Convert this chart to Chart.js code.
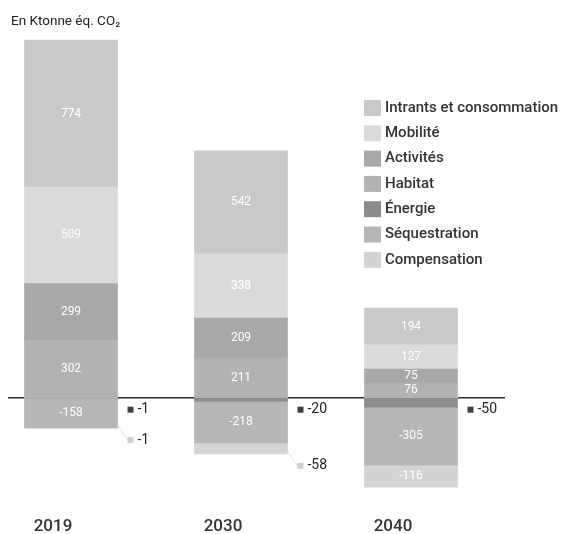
<!DOCTYPE html>
<html>
<head>
<meta charset="utf-8">
<script src="https://cdn.jsdelivr.net/npm/chart.js@4.4.0/dist/chart.umd.min.js"></script>
<style>
  html, body { margin: 0; padding: 0; background: #fff; }
  #wrap { width: 565px; height: 534px; }
</style>
</head>
<body>
<div id="wrap"><canvas id="chart"></canvas></div>
<script>
// values (Ktonne éq. CO2)
const years = ["2019", "2030", "2040"];
const intrants = [774, 542, 194];
const mobilite = [509, 338, 127];
const activites = [299, 209, 75];
const habitat = [302, 211, 76];
const energie = [-1, -20, -50];
const sequestration = [-158, -218, -305];
const compensation = [-1, -58, -116];
const unitLabel = "En Ktonne éq. CO₂";
const legendOrder = ["Intrants et consommation", "Mobilité", "Activités", "Habitat", "Énergie", "Séquestration", "Compensation"];

const FONT = "Roboto, 'DejaVu Sans', sans-serif";

// stacking order: first dataset sits next to the zero line
const datasets = [
  { label: "Habitat", data: habitat, backgroundColor: "#b2b2b2" },
  { label: "Activités", data: activites, backgroundColor: "#a8a8a8" },
  { label: "Mobilité", data: mobilite, backgroundColor: "#dadada" },
  { label: "Intrants et consommation", data: intrants, backgroundColor: "#c9c9c9" },
  { label: "Énergie", data: energie, backgroundColor: "#8c8c8c", labelPos: "zero", marker: "#3f3f3f" },
  { label: "Séquestration", data: sequestration, backgroundColor: "#b6b6b6" },
  { label: "Compensation", data: compensation, backgroundColor: "#d4d4d4", labelPos: "bottom", marker: "#cfcfcf" },
];

const decor = {
  id: "decor",
  beforeDatasetsDraw(chart) {
    // zero line behind the bars
    const { ctx } = chart;
    const y0 = chart.scales.y.getPixelForValue(0);
    ctx.save();
    ctx.strokeStyle = "#2e2e2e";
    ctx.lineWidth = 1.5;
    ctx.beginPath();
    ctx.moveTo(8, y0);
    ctx.lineTo(505, y0);
    ctx.stroke();
    ctx.restore();
  },
  afterDatasetsDraw(chart) {
    const { ctx } = chart;
    const y0 = chart.scales.y.getPixelForValue(0);
    ctx.save();
    chart.data.datasets.forEach((ds, i) => {
      const meta = chart.getDatasetMeta(i);
      meta.data.forEach((bar, j) => {
        const { x, y, base, width } = bar.getProps(["x", "y", "base", "width"], true);
        const h = Math.abs(base - y);
        const v = ds.data[j];
        if (h >= 12) {
          ctx.fillStyle = "#ffffff";
          ctx.font = "12px " + FONT;
          ctx.textAlign = "center";
          ctx.textBaseline = "middle";
          ctx.fillText(String(v), x, (y + base) / 2);
          return;
        }
        // small segments: label outside, right of the bar
        const right = x + width / 2;
        const bottom = Math.max(y, base);
        const ly = ds.labelPos === "zero" ? y0 + 12 : bottom + 12;
        const mx = right + 10;
        if (ds.labelPos === "bottom") {
          ctx.strokeStyle = "#e2e2e2";
          ctx.lineWidth = 1;
          ctx.beginPath();
          ctx.moveTo(right, bottom - 3);
          ctx.lineTo(mx, ly);
          ctx.stroke();
        }
        ctx.fillStyle = ds.marker;
        ctx.fillRect(mx, ly - 3, 6, 6);
        ctx.fillStyle = "#222";
        ctx.font = "14px " + FONT;
        ctx.textAlign = "left";
        ctx.textBaseline = "middle";
        ctx.fillText(String(v), mx + 10, ly);
      });
    });
    ctx.restore();
  },
  afterDraw(chart) {
    const { ctx } = chart;
    ctx.save();
    // unit label
    ctx.fillStyle = "#222";
    ctx.font = "13.5px " + FONT;
    ctx.textAlign = "left";
    ctx.textBaseline = "middle";
    ctx.fillText(unitLabel, 11, 22);
    // legend
    ctx.font = "500 15px " + FONT;
    legendOrder.forEach((name, k) => {
      const ds = chart.data.datasets.find(d => d.label === name);
      const cy = 108 + k * 25.3;
      ctx.fillStyle = ds.backgroundColor;
      ctx.fillRect(364, cy - 8, 17, 16);
      ctx.fillStyle = "#333";
      ctx.fillText(name, 385, cy);
    });
    ctx.restore();
  }
};

new Chart(document.getElementById("chart"), {
  type: "bar",
  data: { labels: years, datasets: datasets },
  options: {
    responsive: true,
    maintainAspectRatio: false,
    animation: false,
    layout: { padding: { top: 37, left: 71, right: 154, bottom: -23 } },
    datasets: { bar: { barThickness: 93, clip: false } },
    plugins: {
      legend: { display: false },
      tooltip: { enabled: false },
    },
    scales: {
      x: {
        stacked: true,
        offset: false,
        grid: { display: false, drawTicks: false },
        border: { display: false },
        ticks: {
          color: "#333",
          font: { family: FONT, size: 17, weight: "500" },
          padding: 20,
          labelOffset: -18,
        },
      },
      y: {
        stacked: true,
        display: false,
        min: -521,
        max: 1900,
      },
    },
  },
  plugins: [decor],
});
</script>
</body>
</html>
